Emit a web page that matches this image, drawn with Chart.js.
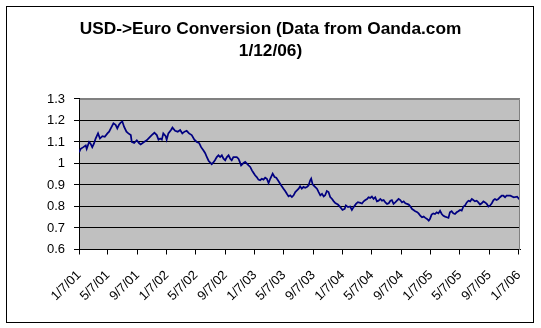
<!DOCTYPE html>
<html>
<head>
<meta charset="utf-8">
<script src="https://cdn.jsdelivr.net/npm/chart.js@4/dist/chart.umd.min.js"></script>
<style>
  html, body { margin: 0; padding: 0; background: #fff; }
  canvas { display: block; }
</style>
</head>
<body>
<canvas id="c" width="541" height="328"></canvas>
<script>
// ---- data ----
const chartTitle = ['USD->Euro Conversion (Data from Oanda.com', '1/12/06)'];
const startDate = '1/7/01';
const endDate = '1/12/06';
const xTickLabels = ['1/7/01','5/7/01','9/7/01','1/7/02','5/7/02','9/7/02','1/7/03','5/7/03',
  '9/7/03','1/7/04','5/7/04','9/7/04','1/7/05','5/7/05','9/7/05','1/7/06'];
const yTickLabels = ['0.6','0.7','0.8','0.9','1','1.1','1.2','1.3'];

// days after 1/7/01
const sampleDays = [
  0,7,18,28,32,42,48,55,62,69,79,87,97,107,118,125,132,143,152,159,166,173,180,187,197,205,215,219,229,240,
  249,256,270,281,295,302,313,323,330,337,344,350,360,364,371,382,388,399,410,420,429,438,447,457,468,479,489,499,507,517,
  524,531,538,544,551,558,565,572,579,586,593,600,607,614,621,628,634,641,648,655,662,666,673,683,690,697,704,711,718,725,
  731,738,745,752,759,766,773,780,787,794,804,812,819,826,835,842,849,856,863,870,877,884,891,898,905,912,918,925,932,939,
  946,953,960,964,970,978,988,995,1002,1009,1016,1022,1029,1036,1043,1050,1057,1064,1075,1085,1094,1103,1108,1117,1126,1133,1140,1150,1158,1168,
  1175,1182,1189,1196,1202,1209,1216,1223,1230,1237,1244,1251,1258,1265,1272,1279,1286,1293,1299,1306,1313,1320,1327,1334,1341,1348,1355,1362,1369,1376,
  1383,1389,1396,1403,1410,1417,1424,1431,1438,1445,1452,1457,1464,1471,1478,1485,1492,1499,1506,1513,1520,1527,1534,1540,1547,1554,1561,1568,1575,1582,
  1589,1596,1603,1610,1617,1624,1631,1637,1644,1651,1658,1665,1672,1679,1686,1693,1700,1707,1714,1721,1727,1734,1741,1748,1755,1762,1769,1775,1791,1805,
  1819,1831
];
const usdToEuro = [
  1.052,1.068,1.076,1.084,1.068,1.100,1.092,1.076,1.092,1.116,1.140,1.116,1.127,1.124,1.140,1.148,1.163,1.187,1.180,1.163,1.180,1.190,1.195,1.171,1.148,1.140,1.132,1.100,1.095,1.108,
  1.095,1.089,1.100,1.108,1.124,1.132,1.143,1.132,1.111,1.116,1.111,1.140,1.127,1.111,1.140,1.156,1.167,1.152,1.148,1.156,1.140,1.148,1.152,1.140,1.132,1.111,1.100,1.095,1.076,1.060,
  1.048,1.029,1.013,1.005,0.997,1.005,1.016,1.030,1.038,1.030,1.038,1.022,1.015,1.030,1.038,1.022,1.015,1.030,1.030,1.030,1.022,1.012,0.991,1.002,1.007,0.999,0.991,0.984,0.968,0.956,
  0.945,0.937,0.925,0.922,0.929,0.925,0.934,0.929,0.909,0.929,0.953,0.937,0.934,0.922,0.906,0.894,0.883,0.872,0.859,0.847,0.852,0.844,0.852,0.867,0.875,0.883,0.894,0.883,0.891,0.887,
  0.891,0.898,0.922,0.930,0.903,0.894,0.883,0.867,0.852,0.859,0.847,0.852,0.872,0.867,0.844,0.836,0.825,0.816,0.809,0.797,0.784,0.789,0.805,0.797,0.800,0.784,0.797,0.812,0.820,0.817,
  0.814,0.824,0.830,0.835,0.843,0.840,0.846,0.835,0.843,0.824,0.827,0.835,0.827,0.830,0.819,0.812,0.815,0.827,0.830,0.812,0.819,0.827,0.835,0.830,0.819,0.824,0.815,0.812,0.809,0.800,
  0.788,0.784,0.778,0.774,0.768,0.757,0.750,0.753,0.747,0.742,0.734,0.742,0.762,0.768,0.765,0.773,0.768,0.780,0.765,0.757,0.753,0.750,0.747,0.773,0.778,0.768,0.765,0.773,0.778,0.784,
  0.781,0.800,0.805,0.819,0.827,0.824,0.835,0.830,0.824,0.827,0.819,0.809,0.815,0.824,0.819,0.812,0.800,0.805,0.815,0.830,0.835,0.830,0.835,0.843,0.850,0.850,0.843,0.850,0.850,0.843,
  0.846,0.830
];

// ---- helpers ----
function parseMDY(s) {
  const [m, d, y] = s.split('/').map(Number);
  return Date.UTC(2000 + y, m - 1, d);
}
function daysFromStart(s) {
  return Math.round((parseMDY(s) - parseMDY(startDate)) / 86400000);
}
const xTickDays = xTickLabels.map(daysFromStart);
const lastDay = daysFromStart(endDate);
const points = sampleDays.map((d, i) => ({ x: d, y: usdToEuro[i] }));

const FONT = "'Liberation Sans', Arial, sans-serif";

const backgroundPlugin = {
  id: 'excelFrame',
  beforeDraw(chart) {
    const ctx = chart.ctx;
    const a = chart.chartArea;
    ctx.save();
    ctx.fillStyle = '#ffffff';
    ctx.fillRect(0, 0, chart.width, chart.height);
    ctx.strokeStyle = '#000000';
    ctx.lineWidth = 1;
    ctx.strokeRect(6.5, 6.5, 527, 316);
    ctx.fillStyle = '#c0c0c0';
    ctx.fillRect(a.left, a.top, a.right - a.left, a.bottom - a.top);
    ctx.restore();
  },
  afterDraw(chart) {
    const ctx = chart.ctx;
    const a = chart.chartArea;
    ctx.save();
    ctx.strokeStyle = '#808080';
    ctx.lineWidth = 1;
    ctx.beginPath();
    ctx.moveTo(Math.round(a.left) + 0.5, Math.round(a.top) + 0.5);
    ctx.lineTo(Math.round(a.right) - 0.5, Math.round(a.top) + 0.5);
    ctx.lineTo(Math.round(a.right) - 0.5, Math.round(a.bottom));
    ctx.stroke();
    ctx.restore();
  }
};

new Chart(document.getElementById('c'), {
  type: 'line',
  data: {
    datasets: [{
      data: points,
      borderColor: '#000080',
      borderWidth: 1.75,
      pointRadius: 0,
      tension: 0,
      fill: false
    }]
  },
  options: {
    responsive: false,
    animation: false,
    devicePixelRatio: 1,
    layout: { padding: 0 },
    plugins: {
      legend: { display: false },
      tooltip: { enabled: false },
      title: {
        display: true,
        text: chartTitle,
        color: '#000',
        font: { family: FONT, size: 17.3, weight: 'bold', lineHeight: 1.3 },
        padding: { top: 18, bottom: 36 }
      }
    },
    scales: {
      x: {
        type: 'linear',
        min: 0,
        max: lastDay,
        afterBuildTicks(scale) { scale.ticks = xTickDays.map(v => ({ value: v })); },
        afterFit(scale) {
          scale.height = 78.5;
          scale.paddingLeft = 0;
          scale.paddingRight = 0;
        },
        ticks: {
          autoSkip: false,
          minRotation: 45,
          maxRotation: 45,
          padding: 13,
          color: '#000',
          font: { family: FONT, size: 13 },
          callback(value, index) { return xTickLabels[index]; }
        },
        grid: { drawOnChartArea: false, tickLength: 5, color: '#000' },
        border: { color: '#000', width: 1 }
      },
      y: {
        min: 0.6,
        max: 1.3,
        afterBuildTicks(scale) { scale.ticks = yTickLabels.map(v => ({ value: Number(v) })); },
        afterFit(scale) { scale.width = 79; },
        ticks: {
          padding: 9,
          color: '#000',
          font: { family: FONT, size: 13 },
          callback(value, index) { return yTickLabels[index]; }
        },
        grid: {
          tickLength: 5,
          tickColor: '#000',
          color: (c) => (c.tick && Math.abs(c.tick.value - 1.3) < 1e-6) ? '#808080' : '#000'
        },
        border: { color: '#000', width: 1 }
      },
      spacer: {
        position: 'right',
        display: true,
        afterFit(scale) { scale.width = 21; },
        ticks: { display: false },
        grid: { display: false },
        border: { display: false }
      }
    }
  },
  plugins: [backgroundPlugin]
});
</script>
</body>
</html>
